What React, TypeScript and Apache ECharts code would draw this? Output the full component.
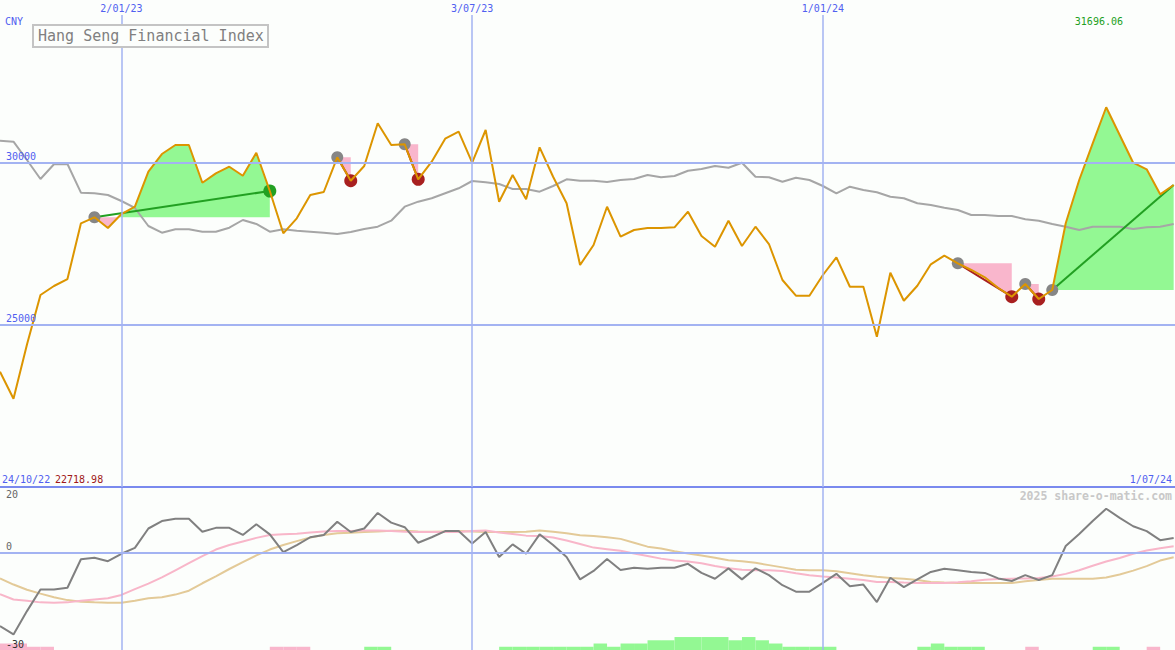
import React, { useEffect, useRef } from "react";
import * as echarts from "echarts";

// ---------- data ----------
const prices = [
  23551, 22718.98, 24390, 25914, 26191, 26406, 28122, 28307, 27977, 28408,
  28633, 29711, 30256, 30534, 30534, 29372, 29662, 29865, 29588, 30296,
  29117, 27814, 28276, 28994, 29086, 30155, 29434, 29887, 31202, 30534,
  30555, 29477, 30019, 30728, 30943, 29988, 30996, 28787, 29610, 28861,
  30463, 29557, 28738, 26838, 27454, 28633, 27709, 27916, 27977, 27977,
  27999, 28479, 27731, 27401, 28202, 27423, 28017, 27484, 26376, 25892,
  25892, 26530, 27075, 26169, 26169, 24629, 26600, 25738, 26200, 26859,
  27124, 26890, 26684, 26459, 26129, 25861, 26252, 25790, 26068, 28122,
  29456, 30586, 31696.06, 30842, 29988, 29785, 29015, 29302,
];
const movingAvg = [
  30666, 30636, 30072, 29487, 29940, 29949, 29065, 29046, 28994, 28809,
  28594, 28039, 27833, 27938, 27938, 27864, 27864, 27987, 28224, 28101,
  27864, 27938, 27894, 27864, 27833, 27793, 27854, 27947, 28018, 28202,
  28634, 28788, 28892, 29046, 29200, 29425, 29385, 29333, 29179, 29179,
  29096, 29271, 29478, 29434, 29434, 29394, 29456, 29487, 29610, 29539,
  29579, 29742, 29795, 29887, 29835, 29989, 29558, 29539, 29404, 29527,
  29456, 29271, 29046, 29250, 29148, 29077, 28942, 28892, 28738, 28686,
  28603, 28532, 28378, 28378, 28347, 28347, 28246, 28202, 28101, 28018,
  27916, 28018, 28018, 28018, 27947, 27999, 28018, 28101,
];
const oscillator = [
  -22.6, -25.2, -18.0, -11.3, -11.3, -10.8, -2.0, -1.5, -2.6, -0.3,
  1.5, 7.5, 9.8, 10.5, 10.5, 6.5, 7.7, 7.7, 5.5, 8.8,
  5.7, 0.2, 2.4, 4.8, 5.5, 9.6, 6.4, 7.5, 12.3, 9.3,
  7.9, 3.1, 4.8, 6.7, 6.7, 2.9, 6.4, -1.3, 2.6, -0.3,
  5.7, 2.4, -1.3, -8.2, -5.6, -1.9, -5.3, -4.6, -4.9, -4.6,
  -4.6, -3.4, -6.2, -8.0, -4.8, -8.2, -4.8, -6.9, -10.0, -12.0,
  -12.0, -9.3, -6.5, -10.3, -9.8, -15.2, -7.7, -10.6, -8.2, -5.9,
  -4.9, -5.4, -5.9, -6.2, -7.9, -8.7, -6.9, -8.4, -6.9, 2.1,
  5.8, 9.8, 13.6, 10.8, 8.2, 6.7, 3.9, 4.6,
];
const signalFast = [
  -12.8, -14.4, -14.8, -15.3, -15.4, -15.3, -14.8, -14.4, -14.0, -13.0,
  -11.2, -9.5, -7.6, -5.4, -3.2, -1.0, 1.0, 2.4, 3.5, 4.6,
  5.5, 5.7, 5.9, 6.3, 6.6, 6.7, 6.7, 6.9, 6.9, 6.7,
  6.5, 6.4, 6.4, 6.4, 6.4, 6.7, 6.9, 6.3, 5.8, 5.3,
  5.2, 4.7, 3.8, 2.7, 1.6, 1.1, 0.6, -0.2, -1.0, -1.8,
  -2.4, -2.7, -3.2, -4.1, -4.8, -5.2, -5.4, -5.4, -5.6, -6.3,
  -6.9, -7.3, -7.6, -8.0, -8.4, -9.0, -9.0, -9.2, -9.3, -9.3,
  -9.3, -9.1, -8.8, -8.3, -8.1, -8.0, -7.9, -7.8, -7.3, -6.5,
  -5.4, -4.0, -2.7, -1.6, -0.3, 0.7, 1.4, 2.0,
];
const signalSlow = [
  -7.9, -9.8, -11.4, -12.6, -13.7, -14.6, -15.1, -15.3, -15.4, -15.4,
  -14.8, -14.0, -13.7, -12.9, -11.7, -9.4, -7.3, -5.0, -2.9, -0.8,
  1.0, 2.4, 3.6, 4.7, 5.5, 6.0, 6.2, 6.4, 6.6, 6.8,
  6.8, 6.6, 6.5, 6.6, 6.7, 6.6, 6.4, 6.4, 6.4, 6.5,
  6.9, 6.5, 6.0, 5.4, 5.2, 4.8, 4.3, 3.1, 1.9, 1.3,
  0.5, -0.2, -0.8, -1.5, -2.3, -2.6, -3.1, -3.8, -4.5, -5.2,
  -5.4, -5.4, -5.7, -6.3, -6.9, -7.4, -7.8, -8.0, -8.4, -9.0,
  -9.2, -9.3, -9.3, -9.3, -9.3, -9.3, -8.8, -8.4, -8.0, -8.0,
  -8.0, -8.0, -7.6, -6.7, -5.5, -4.1, -2.4, -1.4,
];
const histogram = [
  -2, -2, -1, -1, 0, 0, 0, 0, 0, 0,
  0, 0, 0, 0, 0, 0, 0, 0, 0, 0,
  -1, -1, -1, 0, 0, 0, 0, 1, 1, 0,
  0, 0, 0, 0, 0, 0, 0, 1, 1, 1,
  1, 1, 1, 1, 2, 1, 2, 2, 3, 3,
  4, 4, 4, 4, 3, 4, 3, 2, 1, 1,
  1, 1, 0, 0, 0, 0, 0, 0, 1, 2,
  1, 1, 1, 0, 0, 0, -1, 0, 0, 0,
  0, 1, 1, 0, 0, -1, 0, 0,
];
const patternStart = [7, 25, 30, 71, 76, 78];
const patternEnd = [20, 26, 31, 75, 77, 87];
const dateTickIndex = [9, 35, 61];
const dateTickLabels = ["2/01/23", "3/07/23", "1/01/24"];
const startDateLabel = "24/10/22";
const endDateLabel = "1/07/24";
const priceLevels = [30000, 25000];
const priceMin = 20000;
const priceMax = 35000;
const oscTicks = [20, 0, -30];
const currency = "CNY";
const title = "Hang Seng Financial Index";
const watermark = "2025 share-o-matic.com";

// ---------- styles ----------
const FONT = "DejaVu Sans Mono";
const BLUE = "#5060f0";
const GRIDLINE = "#a3b3f2";
const X_MAX = 87.1;
const DATE_LINE_TOP = 34540;
const GREEN_FILL = "#93f893";
const PINK_FILL = "#f9b6cc";

export default function App() {
  const ref = useRef<HTMLDivElement>(null);
  useEffect(() => {
    const chart = echarts.init(ref.current!, null, { renderer: "svg" });
    const pts = (arr: number[]) => arr.map((v, i) => [i, v]);
    const lastIdx = prices.length - 1;
    const maxLabel = Math.max(...prices).toFixed(2);
    const minLabel = Math.min(...prices).toFixed(2);

    const fillRender = (_p: any, api: any) => {
      const s = api.value(0) as number;
      const e = api.value(1) as number;
      const base = prices[s];
      const pieces: { pts: number[][]; up: boolean }[] = [];
      let cur: number[][] = [[s, base]];
      let acc = 0;
      for (let i = s; i <= e; i++) {
        if (i > s) {
          const a = prices[i - 1] - base;
          const b = prices[i] - base;
          if (a * b < 0) {
            const xc = i - 1 + a / (a - b);
            cur.push([xc, base]);
            pieces.push({ pts: cur, up: acc > 0 });
            cur = [[xc, base]];
            acc = 0;
          }
        }
        cur.push([i, prices[i]]);
        acc += prices[i] - base;
      }
      cur.push([e, base]);
      pieces.push({ pts: cur, up: acc > 0 });
      return {
        type: "group",
        children: pieces.map((p) => ({
          type: "polygon",
          shape: { points: p.pts.map((pt) => api.coord(pt)) },
          style: { fill: p.up ? GREEN_FILL : PINK_FILL },
        })),
      };
    };

    const markerRender = (_p: any, api: any) => {
      const s = api.value(0) as number;
      const e = api.value(1) as number;
      const p0 = api.coord([s, prices[s]]);
      const p1 = api.coord([e, prices[e]]);
      const up = prices[e] >= prices[s];
      const children: any[] = [
        {
          type: "line",
          shape: { x1: p0[0], y1: p0[1], x2: p1[0], y2: p1[1] },
          style: { stroke: up ? "#22a022" : "#a82020", lineWidth: 2 },
        },
        { type: "circle", shape: { cx: p0[0], cy: p0[1], r: 6 }, style: { fill: "#868686" } },
      ];
      if (e < lastIdx) {
        children.push({
          type: "circle",
          shape: { cx: p1[0], cy: p1[1], r: 6.5 },
          style: { fill: up ? "#22a022" : "#a82020" },
        });
      }
      return { type: "group", children };
    };

    const histRender = (_p: any, api: any) => {
      const i = api.value(0) as number;
      const v = api.value(1) as number;
      const a = api.coord([i, oscTicks[2]]);
      const b = api.coord([i + 1, oscTicks[2] + Math.abs(v)]);
      return {
        type: "rect",
        shape: { x: a[0], y: b[1], width: b[0] - a[0], height: a[1] - b[1] },
        style: { fill: v > 0 ? GREEN_FILL : PINK_FILL },
      };
    };

    const labelStyle = { fontFamily: FONT, fontSize: 10 };

    const text = (t: string, x: number, y: number, fill: string, align: string, font: string) => ({
      type: "text",
      x,
      y,
      z: 100,
      style: {
        text: t,
        fill,
        font,
        align,
        textAlign: align,
        verticalAlign: "middle",
        textVerticalAlign: "middle",
      },
    });

    const option: any = {
      animation: false,
      backgroundColor: "#fcfefc",
      grid: [
        { left: 0, right: 0, top: 0, height: 487 },
        { left: 0, right: 0, top: 488, height: 162 },
      ],
      xAxis: [
        {
          gridIndex: 0,
          type: "value",
          min: 0,
          max: X_MAX,
          position: "bottom",
          axisLine: { show: true, onZero: false, lineStyle: { color: "#7a8aee", width: 2 } },
          axisTick: { show: false },
          axisLabel: { show: false },
          splitLine: { show: false },
        },
        { gridIndex: 1, type: "value", min: 0, max: X_MAX, show: false },
      ],
      yAxis: [
        { gridIndex: 0, type: "value", min: priceMin, max: priceMax, show: false },
        { gridIndex: 1, type: "value", min: oscTicks[2], max: oscTicks[0], show: false },
      ],
      series: [
        {
          type: "line",
          xAxisIndex: 0,
          yAxisIndex: 0,
          data: pts(prices),
          symbol: "none",
          silent: true,
          z: 0,
          lineStyle: { opacity: 0 },
          markLine: {
            silent: true,
            symbol: ["none", "none"],
            lineStyle: { color: GRIDLINE, width: 2, type: "solid" },
            data: [
              ...priceLevels.map((v) => ({
                yAxis: v,
                lineStyle: { color: GRIDLINE, width: 2, type: "solid" },
                label: {
                  show: true,
                  position: "insideStartTop",
                  formatter: String(v),
                  color: BLUE,
                  distance: [6, 1],
                  ...labelStyle,
                },
              })),
              ...dateTickIndex.map((d, k) => [
                {
                  coord: [d, DATE_LINE_TOP],
                  lineStyle: { color: GRIDLINE, width: 1.5, type: "solid" },
                  label: {
                    show: true,
                    position: "start",
                    formatter: dateTickLabels[k],
                    color: BLUE,
                    distance: 1,
                    ...labelStyle,
                  },
                },
                { coord: [d, priceMin] },
              ]),
            ],
          },
        },
        {
          type: "custom",
          xAxisIndex: 0,
          yAxisIndex: 0,
          z: 1,
          silent: true,
          data: patternStart.map((s, k) => [s, patternEnd[k], prices[s]]),
          encode: { x: 0, y: 2 },
          renderItem: fillRender,
        },
        {
          type: "line",
          xAxisIndex: 0,
          yAxisIndex: 0,
          z: 2,
          data: pts(movingAvg),
          symbol: "none",
          lineStyle: { color: "#a6a6a6", width: 2 },
        },
        {
          type: "custom",
          xAxisIndex: 0,
          yAxisIndex: 0,
          z: 3,
          silent: true,
          data: patternStart.map((s, k) => [s, patternEnd[k], prices[s]]),
          encode: { x: 0, y: 2 },
          renderItem: markerRender,
        },
        {
          type: "line",
          xAxisIndex: 0,
          yAxisIndex: 0,
          z: 4,
          data: pts(prices),
          symbol: "none",
          lineStyle: { color: "#dc9500", width: 2 },
        },
        // lower panel
        {
          type: "line",
          xAxisIndex: 1,
          yAxisIndex: 1,
          data: pts(oscillator),
          symbol: "none",
          silent: true,
          z: 0,
          lineStyle: { opacity: 0 },
          markLine: {
            silent: true,
            symbol: ["none", "none"],
            lineStyle: { color: GRIDLINE, width: 1.5, type: "solid" },
            data: [
              ...dateTickIndex.map((d) => ({
                xAxis: d,
                lineStyle: { color: GRIDLINE, width: 1.5, type: "solid" },
                label: { show: false },
              })),
              ...oscTicks.map((v, k) => ({
                yAxis: v,
                lineStyle: {
                  color: v === 0 ? GRIDLINE : "rgba(0,0,0,0)",
                  width: 2,
                  type: "solid",
                },
                label: {
                  show: true,
                  position: k === 0 ? "insideStartBottom" : "insideStartTop",
                  formatter: String(v),
                  color: k === 2 ? "#333333" : "#666666",
                  distance: [6, 1],
                  ...labelStyle,
                },
              })),
            ],
          },
        },
        {
          type: "custom",
          xAxisIndex: 1,
          yAxisIndex: 1,
          z: 1,
          silent: true,
          data: pts(histogram).filter((d) => d[1] !== 0),
          renderItem: histRender,
        },
        {
          type: "line",
          xAxisIndex: 1,
          yAxisIndex: 1,
          z: 2,
          data: pts(signalSlow),
          symbol: "none",
          lineStyle: { color: "#e3ca98", width: 2 },
        },
        {
          type: "line",
          xAxisIndex: 1,
          yAxisIndex: 1,
          z: 3,
          data: pts(signalFast),
          symbol: "none",
          lineStyle: { color: "#f8b6c9", width: 2 },
        },
        {
          type: "line",
          xAxisIndex: 1,
          yAxisIndex: 1,
          z: 4,
          data: pts(oscillator),
          symbol: "none",
          lineStyle: { color: "#808080", width: 2 },
        },
      ],
      graphic: [
        text(currency, 5, 21, BLUE, "left", `10px ${FONT}`),
        {
          type: "rect",
          z: 99,
          shape: { x: 33, y: 25, width: 235, height: 22 },
          style: { fill: "#fcfefc", stroke: "#c4c4c4", lineWidth: 2 },
        },
        text(title, 38, 36, "#808080", "left", `15px ${FONT}`),
        text(maxLabel, 1123, 21, "#22a022", "right", `10px ${FONT}`),
        text(startDateLabel, 2, 479, BLUE, "left", `10px ${FONT}`),
        text(minLabel, 55, 479, "#a01818", "left", `10px ${FONT}`),
        text(endDateLabel, 1172, 479, BLUE, "right", `10px ${FONT}`),
        text(watermark, 1172, 496, "#c8c8c8", "right", `bold 11.5px ${FONT}`),
      ],
    };
    chart.setOption(option);
    return () => chart.dispose();
  }, []);
  return (
    <div
      ref={ref}
      style={{ position: "absolute", left: 0, top: 0, width: 1175, height: 650 }}
    />
  );
}
